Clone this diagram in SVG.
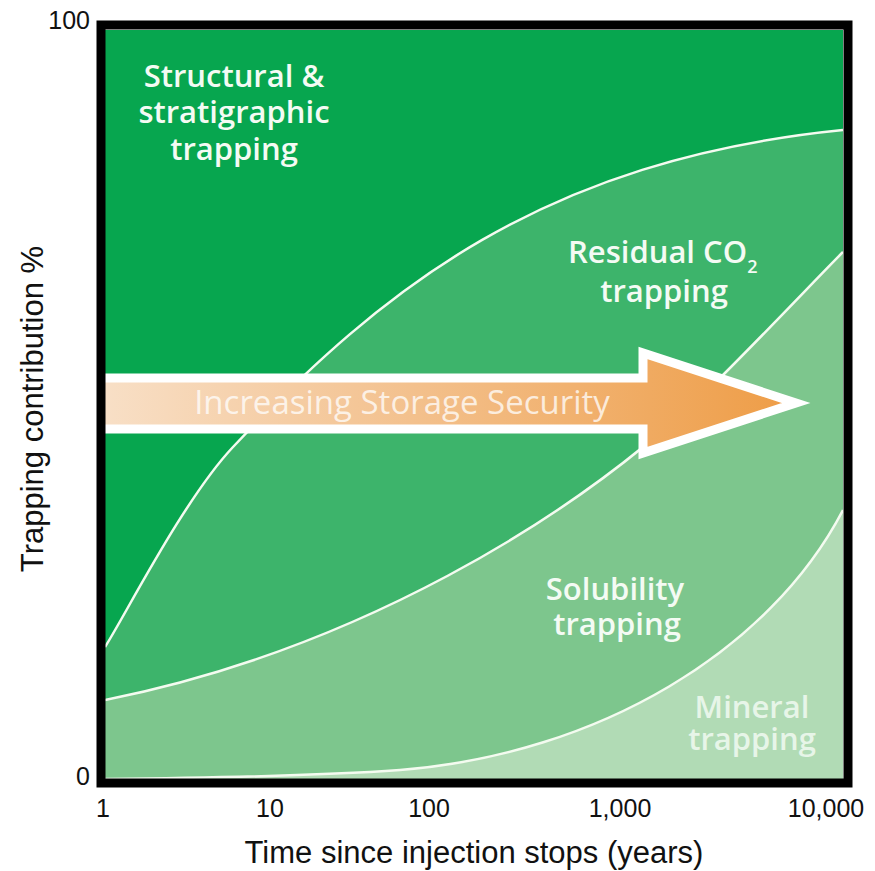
<svg xmlns="http://www.w3.org/2000/svg" width="875" height="871" viewBox="0 0 875 871">
<style>
.axis{font-family:"Liberation Sans",Arial,sans-serif;fill:#111;}
.tick{font-size:25px;}
.ttl{font-size:31px;}
.lab{font-family:"Open Sans","Noto Sans",sans-serif;font-weight:600;font-size:31px;fill:#f4fbf4;text-anchor:middle;}
.curve{fill:none;stroke:#f4fbf0;stroke-width:2.5;}
</style>
<defs>
<clipPath id="plot"><rect x="105" y="30" width="738" height="749"/></clipPath>
<linearGradient id="arrowGrad" x1="105" y1="0" x2="800" y2="0" gradientUnits="userSpaceOnUse">
<stop offset="0" stop-color="#f8dfc6"/>
<stop offset="0.45" stop-color="#f3c08c"/>
<stop offset="1" stop-color="#ee9c45"/>
</linearGradient>
</defs>
<rect width="875" height="871" fill="#ffffff"/>
<g id="plot-area" clip-path="url(#plot)">
<rect id="structural" x="100" y="25" width="750" height="760" fill="#07a64f"/>
<path id="residual" fill="#3db46b" d="M105,647 C126,614 184,499 233,447 C383,288 543,160 843,130 L850,128 L850,785 L100,785 L100,650 Z"/>
<path id="solubility" fill="#7dc68d" d="M105,700 C345,652 573,525 723,375 C773,325 820,275 843,252 L850,244 L850,785 L100,785 L100,701 Z"/>
<path id="mineral" fill="#b1dbb5" d="M105,779 C200,778 330,775 400,770 C600,754 770,650 843,510 L850,500 L850,785 L100,785 Z"/>
<g id="connectors">
<path class="curve" d="M105,647 C126,614 184,499 233,447 C383,288 543,160 843,130"/>
<path class="curve" d="M105,700 C345,652 573,525 723,375 C773,325 820,275 843,252"/>
<path class="curve" d="M105,779 C200,778 330,775 400,770 C600,754 770,650 843,510"/>
</g>
<g id="arrow">
<polygon points="95,378 643,378 643,353 796,403 643,453 643,429 95,429" fill="url(#arrowGrad)" stroke="#ffffff" stroke-width="9" stroke-linejoin="miter" stroke-miterlimit="10"/>
<text x="402" y="414" font-family="'Open Sans','Noto Sans',sans-serif" font-size="33" fill="#ffffff" fill-opacity="0.75" text-anchor="middle">Increasing Storage Security</text>
</g>
</g>
<rect id="frame" x="101" y="25" width="747" height="758" fill="none" stroke="#000" stroke-width="9"/>
<g id="labels">
<g id="lbl-structural">
<text class="lab" x="234" y="87">Structural &amp;</text>
<text class="lab" x="234" y="123">stratigraphic</text>
<text class="lab" x="234" y="160">trapping</text>
</g>
<g id="lbl-residual">
<text class="lab" x="568" y="263" style="text-anchor:start">Residual CO<tspan font-size="18" dy="10">2</tspan></text>
<text class="lab" x="664" y="302">trapping</text>
</g>
<g id="lbl-solubility">
<text class="lab" x="615" y="600">Solubility</text>
<text class="lab" x="617" y="635">trapping</text>
</g>
<g id="lbl-mineral" opacity="0.82">
<text class="lab" x="752" y="718">Mineral</text>
<text class="lab" x="752" y="750">trapping</text>
</g>
</g>
<g id="axes" class="axis">
<text class="tick" x="90" y="29" text-anchor="end">100</text>
<text class="tick" x="90" y="785" text-anchor="end">0</text>
<text class="tick" x="103" y="817" text-anchor="middle">1</text>
<text class="tick" x="270" y="817" text-anchor="middle">10</text>
<text class="tick" x="429" y="817" text-anchor="middle">100</text>
<text class="tick" x="620" y="817" text-anchor="middle">1,000</text>
<text class="tick" x="826" y="817" text-anchor="middle">10,000</text>
<text class="ttl" x="474" y="863" text-anchor="middle">Time since injection stops (years)</text>
<text class="ttl" transform="translate(43,409) rotate(-90)" text-anchor="middle">Trapping contribution %</text>
</g>
</svg>
